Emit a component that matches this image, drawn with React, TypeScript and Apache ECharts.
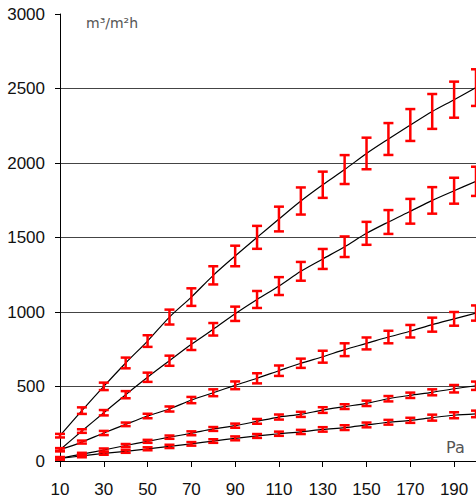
import React, { useEffect, useRef } from "react";
import * as echarts from "echarts";

const pressures = [10, 20, 30, 40, 50, 60, 70, 80, 90, 100, 110, 120, 130, 140, 150, 160, 170, 180, 190, 200];
const xTickLabels = [10, 30, 50, 70, 90, 110, 130, 150, 170, 190];

const flow1 = [170, 338, 501, 658, 805, 966, 1100, 1246, 1376, 1501, 1624, 1745, 1854, 1956, 2064, 2161, 2255, 2346, 2425, 2506];
const err1 = [12, 22, 25, 36, 39, 50, 59, 61, 69, 77, 83, 91, 88, 97, 106, 107, 107, 117, 121, 123];

const flow2 = [76, 201, 324, 445, 562, 673, 783, 884, 988, 1084, 1174, 1273, 1356, 1438, 1528, 1604, 1676, 1749, 1814, 1877];
const err2 = [10, 12, 18, 24, 31, 34, 38, 42, 48, 57, 60, 63, 67, 69, 77, 80, 83, 89, 87, 98];

const flow3 = [76, 127, 188, 246, 302, 349, 409, 458, 508, 555, 606, 656, 700, 747, 789, 832, 871, 915, 954, 993];
const err3 = [10, 10, 14, 12, 15, 17, 21, 23, 26, 34, 35, 31, 40, 43, 40, 42, 42, 47, 46, 51];

const flow4 = [18, 46, 74, 104, 132, 160, 186, 215, 237, 266, 295, 313, 342, 365, 387, 418, 441, 461, 485, 505];
const err4 = [8, 9, 10, 10, 10, 11, 13, 13, 14, 16, 17, 17, 19, 16, 18, 18, 18, 20, 25, 28];

const flow5 = [18, 34, 51, 65, 82, 98, 115, 134, 152, 168, 183, 195, 212, 224, 242, 260, 273, 291, 307, 316];
const err5 = [8, 9, 9, 10, 10, 11, 12, 12, 13, 13, 14, 14, 15, 16, 16, 16, 17, 20, 20, 22];

const allFlows = [flow1, flow2, flow3, flow4, flow5];
const allErrs = [err1, err2, err3, err4, err5];

const yUnit = "m³/m²h";
const xUnit = "Pa";

export default function App() {
  const ref = useRef<HTMLDivElement>(null);

  useEffect(() => {
    if (!ref.current) return;
    const chart = echarts.init(ref.current, undefined, { renderer: "svg" });

    const lineSeries = allFlows.map((f) => ({
      type: "line",
      data: pressures.map((p, i) => [p, f[i]]),
      smooth: 0.3,
      showSymbol: false,
      symbol: "none",
      lineStyle: { color: "#000", width: 1.2 },
      z: 2,
    }));

    const errSeries = allFlows.map((f, k) => ({
      type: "custom",
      data: pressures.map((p, i) => [p, f[i] - allErrs[k][i], f[i] + allErrs[k][i]]),
      encode: { x: 0, y: [1, 2] },
      z: 3,
      renderItem: (params: any, api: any) => {
        const x = api.value(0);
        const lo = api.coord([x, api.value(1)]);
        const hi = api.coord([x, api.value(2)]);
        const w = 5;
        const style = { stroke: "#ff0000", lineWidth: 2.5 };
        return {
          type: "group",
          children: [
            { type: "line", shape: { x1: lo[0], y1: lo[1], x2: hi[0], y2: hi[1] }, style },
            { type: "line", shape: { x1: lo[0] - w, y1: lo[1], x2: lo[0] + w, y2: lo[1] }, style },
            { type: "line", shape: { x1: hi[0] - w, y1: hi[1], x2: hi[0] + w, y2: hi[1] }, style },
          ],
        };
      },
    }));

    chart.setOption({
      animation: false,
      backgroundColor: "#fff",
      grid: { left: 60, right: 0, top: 14, bottom: 41, containLabel: false },
      xAxis: {
        type: "value",
        min: 10,
        max: 200,
        axisLine: { show: true, lineStyle: { color: "#000", width: 1 } },
        axisTick: { show: true, length: 6, customValues: xTickLabels, lineStyle: { color: "#000" } },
        axisLabel: {
          customValues: xTickLabels,
          fontSize: 17,
          color: "#111",
          fontFamily: "Liberation Sans, Arial, sans-serif",
          margin: 20,
        },
        splitLine: { show: false },
      },
      yAxis: {
        type: "value",
        min: 0,
        max: 3000,
        interval: 500,
        axisLine: { show: true, lineStyle: { color: "#000", width: 1 } },
        axisTick: { show: true, length: 5, lineStyle: { color: "#000" } },
        axisLabel: {
          fontSize: 17,
          color: "#111",
          fontFamily: "Liberation Sans, Arial, sans-serif",
          margin: 15,
          formatter: (v: number) => String(v),
        },
        splitLine: {
          show: true,
          showMinLine: false,
          showMaxLine: false,
          lineStyle: { color: "#444", width: 1 },
        },
      },
      graphic: [
        {
          type: "text",
          left: 86,
          top: 16,
          style: { text: yUnit, fontSize: 14, fill: "#555", fontFamily: "DejaVu Sans, sans-serif" },
        },
        {
          type: "text",
          left: 446,
          top: 439,
          style: { text: xUnit, fontSize: 16, fill: "#555", fontFamily: "DejaVu Sans, sans-serif" },
        },
      ],
      series: [...lineSeries, ...errSeries],
    });

    return () => chart.dispose();
  }, []);

  return (
    <div
      ref={ref}
      style={{ position: "fixed", left: 0, top: 0, width: 476, height: 502 }}
    />
  );
}
